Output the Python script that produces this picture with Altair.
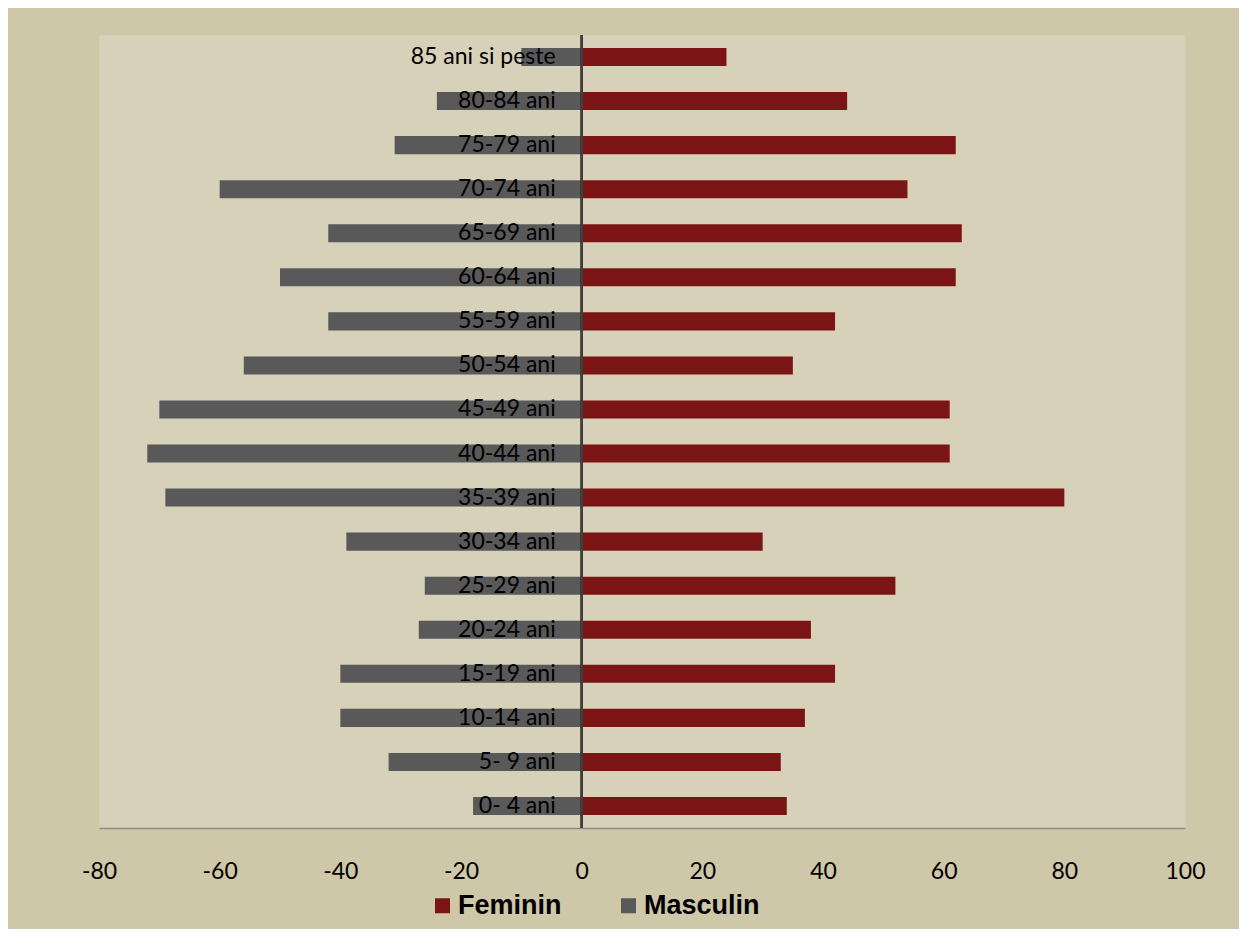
import altair as alt
import pandas as pd

categorii = ["85 ani si peste", "80-84 ani", "75-79 ani", "70-74 ani", "65-69 ani",
             "60-64 ani", "55-59 ani", "50-54 ani", "45-49 ani", "40-44 ani",
             "35-39 ani", "30-34 ani", "25-29 ani", "20-24 ani", "15-19 ani",
             "10-14 ani", "5- 9 ani", "0- 4 ani"]
feminin = [24, 44, 62, 54, 63, 62, 42, 35, 61, 61, 80, 30, 52, 38, 42, 37, 33, 34]
masculin = [-10, -24, -31, -60, -42, -50, -42, -56, -70, -72, -69, -39, -26, -27, -40, -40, -32, -18]
serii = ["Feminin", "Masculin"]
culori = ["#7B1414", "#595959"]
ticks = [-80, -60, -40, -20, 0, 20, 40, 60, 80, 100]

rows = []
for c, f, m in zip(categorii, feminin, masculin):
    rows.append({"grupa": c, "serie": "Feminin", "valoare": f})
    rows.append({"grupa": c, "serie": "Masculin", "valoare": m})
df = pd.DataFrame(rows)
df_cat = pd.DataFrame({"grupa": categorii})

yenc = alt.Y("grupa:N", sort=categorii, axis=None,
             scale=alt.Scale(paddingInner=0.59, paddingOuter=0.295))
xscale = alt.Scale(domain=[-80, 100], nice=False)

bars = alt.Chart(df).mark_bar().encode(
    x=alt.X("valoare:Q", scale=xscale, stack=None, title=None,
            axis=alt.Axis(values=ticks, labelExpr="'' + datum.value", grid=False,
                          ticks=False, domainColor="#8C8C8C", domainWidth=1.5,
                          labelFlush=False, labelOverlap=False,
                          labelFont="Lato", labelFontSize=23, labelColor="#000000",
                          labelPadding=32)),
    y=yenc,
    color=alt.Color("serie:N", scale=alt.Scale(domain=serii, range=culori),
                    legend=alt.Legend(title=None, orient="none", direction="horizontal",
                                      legendX=330, legendY=857, padding=0,
                                      symbolType="square", symbolSize=225,
                                      symbolStrokeWidth=0, labelOffset=2,
                                      columnPadding=53,
                                      labelFont="Liberation Sans", labelFontSize=27,
                                      labelFontWeight="bold", labelColor="#000000")),
)

rule = alt.Chart(df_cat).mark_rule(color="#404040", strokeWidth=1.5).encode(
    x=alt.datum(0)
)

labels = alt.Chart(df_cat).mark_text(align="right", baseline="middle", dx=-26,
                                     font="Lato", fontSize=23, color="#000000").encode(
    x=alt.datum(0),
    y=yenc,
    text="grupa:N",
)

chart = alt.layer(bars, rule, labels).properties(
    width=1086, height=793,
    autosize=alt.AutoSizeParams(type="none"),
    padding={"left": 91, "top": 27, "right": 54, "bottom": 101},
    background="#CEC8A8",
).configure_view(fill="#D7D1B9", stroke="transparent")

chart.save("out.html", embed_options={"renderer": "svg", "actions": False})
